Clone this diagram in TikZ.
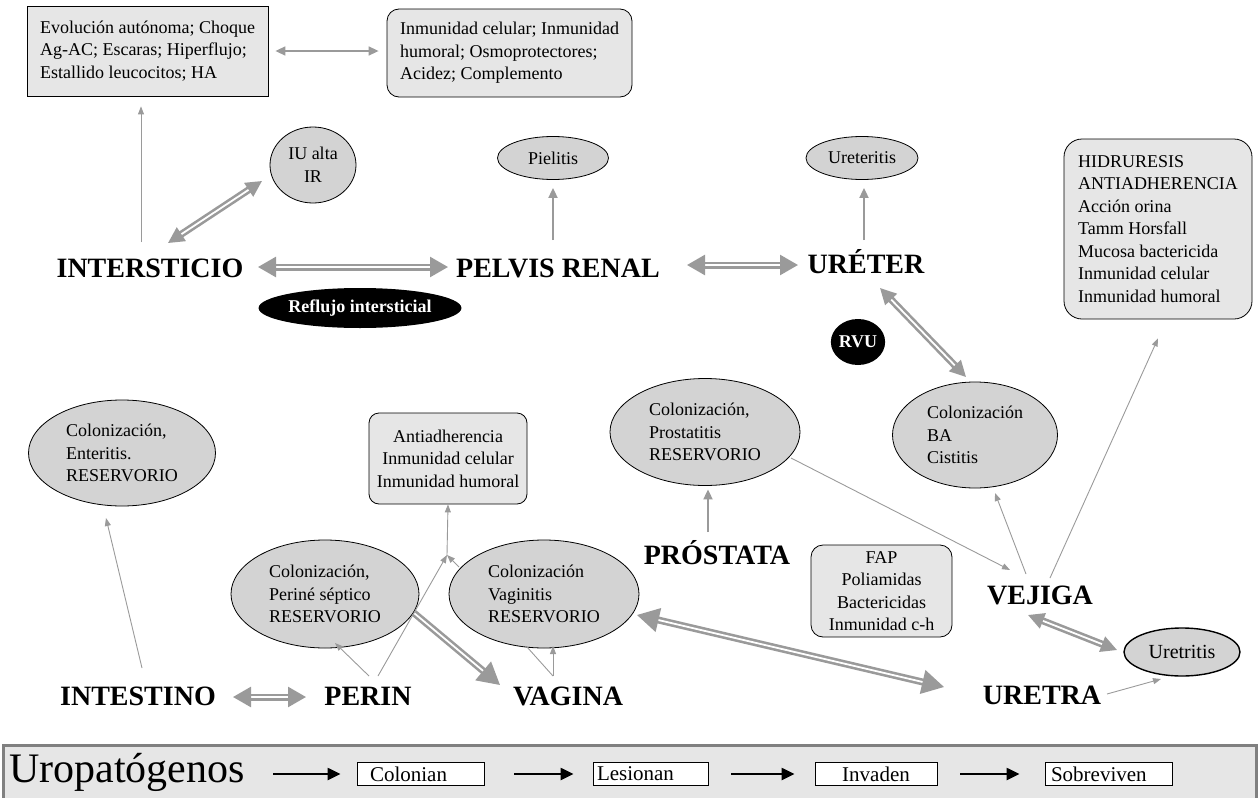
\documentclass[tikz,border=0pt]{standalone}
\usepackage{fontspec}
\setmainfont{Liberation Serif}
\usetikzlibrary{arrows.meta,shapes.geometric,calc}
\definecolor{arrgray}{HTML}{9A9A9A}
\definecolor{ellfill}{HTML}{D3D3D3}
\definecolor{boxfill}{HTML}{E6E6E6}
\definecolor{barline}{HTML}{808080}
\newcommand\txtfont{\fontsize{18}{22.5}\selectfont}
\newcommand\lblfont{\fontsize{28}{30}\selectfont\bfseries}
\tikzset{
  smalltip/.tip={Triangle[length=8pt,width=6pt]},
  midtip/.tip={Triangle[length=10pt,width=9pt]},
  dtipS/.tip={Triangle[length=16pt,width=16pt]},
  dtipM/.tip={Triangle[length=18pt,width=20pt]},
  dtipL/.tip={Triangle[length=22pt,width=24pt]},
  blktip/.tip={Triangle[length=13pt,width=12pt]},
}
\begin{document}
\begin{tikzpicture}[x=1pt,y=-1pt,
  lbl/.style={font=\lblfont, inner sep=0pt, anchor=base},
  ell/.style={ellipse, draw=black, line width=0.8pt, fill=ellfill, font=\txtfont, align=left, inner sep=0pt},
  sqbox/.style={rectangle, draw=black, line width=0.8pt, fill=boxfill, font=\txtfont, align=left, inner sep=0pt},
  rbox/.style={sqbox, rounded corners=12pt},
  darkell/.style={ellipse, fill=black, text=white, font=\fontsize{18}{20}\selectfont\bfseries, inner sep=0pt},
  thinarr/.style={draw=arrgray, line width=0.9pt, -smalltip},
  thinline/.style={draw=arrgray, line width=0.9pt},
  medarr/.style={draw=arrgray, line width=1.8pt, -midtip},
  dbl/.style={draw=arrgray, line width=2.6pt, double=white, double distance=1.8pt},
  wbox/.style={rectangle, draw=black, line width=0.8pt, fill=white, minimum height=23pt, font=\fontsize{21}{22}\selectfont, inner ysep=0pt},
  blkarr/.style={draw=black, line width=2.2pt, -blktip},
]
\useasboundingbox (0,0) rectangle (1259,798);

% bottom band
\draw[barline, line width=3pt, fill=boxfill] (3,745) rectangle (1256,806);

% top boxes
\node[sqbox, minimum width=241pt, minimum height=90pt] (box1) at (147.5,51)
  {Evolución autónoma; Choque\\Ag-AC; Escaras; Hiperflujo;\\Estallido leucocitos; HA};
\node[rbox, minimum width=245pt, minimum height=88pt] (box2) at (509.5,53)
  {Inmunidad celular; Inmunidad\\humoral; Osmoprotectores;\\Acidez; Complemento};
\node[rbox, rounded corners=18pt, minimum width=188pt, minimum height=180pt] (HID) at (1158,229)
  {HIDRURESIS\\ANTIADHERENCIA\\Acción orina\\Tamm Horsfall\\Mucosa bactericida\\Inmunidad celular\\Inmunidad humoral};
\node[rbox, rounded corners=10pt, align=center, minimum width=158pt, minimum height=91pt] (ANT) at (448,458.5)
  {Antiadherencia\\Inmunidad celular\\Inmunidad humoral};
\node[rbox, align=center, minimum width=141pt, minimum height=92pt] (FAP) at (881.5,591)
  {FAP\\Poliamidas\\Bactericidas\\Inmunidad c-h};

% ellipses
\node[ell, align=center, minimum width=86pt, minimum height=76pt] (IU) at (313,165) {IU alta\\IR};
\node[ell, minimum width=111pt, minimum height=43pt] (PIE) at (553,158) {Pielitis};
\node[ell, minimum width=112pt, minimum height=43pt] (UTS) at (862,158) {Ureteritis};
\node[ell, minimum width=187pt, minimum height=106pt] (ENT) at (122,453) {Colonización,\\Enteritis.\\RESERVORIO};
\node[ell, minimum width=188pt, minimum height=108pt] (PERI) at (325,594) {Colonización,\\Periné séptico\\RESERVORIO};
\node[ell, minimum width=190pt, minimum height=108pt] (VAGI) at (544,594) {Colonización\\Vaginitis\\RESERVORIO};
\node[ell, minimum width=190pt, minimum height=107pt] (PST) at (705,432) {Colonización,\\Prostatitis\\RESERVORIO};
\node[ell, minimum width=165pt, minimum height=106pt] (CIS) at (975,435) {Colonización\\BA\\Cistitis};
\node[ell, line width=1.4pt, font=\fontsize{20}{22}\selectfont, minimum width=116pt, minimum height=48pt] (UTR) at (1182,652) {Uretritis};

% dark tags
\node[darkell, minimum width=178pt, minimum height=40pt] (REF) at (360,308) {Reflujo intersticial};
\node[darkell, minimum width=44pt, minimum height=46pt] (RVU) at (858,342) {RVU};

% organ labels
\node[lbl] (INT) at (150,277) {INTERSTICIO};
\node[lbl] (PEL) at (558,277) {PELVIS RENAL};
\node[lbl] (URE) at (866,273) {URÉTER};
\node[lbl] (PRO) at (717,564) {PRÓSTATA};
\node[lbl] (VEJ) at (1040,604) {VEJIGA};
\node[lbl] (URT) at (1042,704) {URETRA};
\node[lbl] (INTE) at (138,705) {INTESTINO};
\node[lbl] (PER) at (368,705) {PERIN};
\node[lbl] (VAG) at (568,705) {VAGINA};

\coordinate (J) at (447,555);

% connectors, upper tract
\draw[draw=arrgray, line width=1.5pt, midtip-midtip, shorten <=7pt, shorten >=8pt]
  (box1.east) -- (box1.east -| box2.west);
\draw[thinarr] ($(INT.base)+(-9,-35)$) -- ($(box1.south)+(-6.5,10)$);
\draw[dbl, dtipS-dtipS] ($(INT.base)+(18,-34)$) -- ($(IU.center)+(-51,16)$);
\draw[dbl, dtipM-dtipM] ($(INT.base)+(108,-10)$) -- ($(PEL.base)+(-110,-10)$);
\draw[medarr] ($(PEL.base)+(-5,-37)$) -- ($(PIE.south)+(0,8)$);
\draw[dbl, dtipM-dtipM] ($(PEL.base)+(129,-12)$) -- ($(URE.base)+(-68,-8)$);
\draw[medarr] ($(URE.base)+(-2,-33)$) -- ($(UTS.south)+(2,8)$);
\draw[dbl, dtipS-dtipS] ($(URE.base)+(14,15)$) -- ($(CIS.center)+(-9,-58)$);

% bladder and prostate
\draw[thinarr] ($(PST.center)+(86,26)$) -- ($(VEJ.base)+(-30,-34)$);
\draw[thinarr] ($(VEJ.base)+(-14,-30)$) -- ($(CIS.center)+(20,58)$);
\draw[thinarr] ($(VEJ.base)+(10,-26)$) -- ($(HID.south)+(0,19)$);
\draw[medarr] ($(PRO.base)+(-9,-32)$) -- ($(PST.south)+(3,3.5)$);
\draw[dbl, dtipS-dtipS] ($(VEJ.base)+(-12,11)$) -- ($(UTR.center)+(-65,-2)$);
\draw[thinarr] ($(URT.base)+(65,-10)$) -- ($(UTR.center)+(-21,27)$);
\draw[dbl, dtipL-dtipL] ($(URT.base)+(-98,-17)$) -- ($(VAGI.center)+(93,21)$);

% lower tract
\draw[dbl, -dtipL] ($(PERI.center)+(89,19)$) -- ($(VAG.base)+(-68,-20)$);
\draw[dbl, dtipM-dtipM] ($(INTE.base)+(95,-8)$) -- ($(PER.base)+(-62,-8)$);
\draw[thinarr] ($(INTE.base)+(4,-37)$) -- ($(ENT.center)+(-16,65)$);
\draw[thinarr] ($(PER.base)+(1,-29)$) -- ($(PERI.center)+(10,49)$);
\draw[thinarr] ($(PER.base)+(10,-29)$) -- (J);
\draw[thinarr] ($(VAGI.center)+(-85,-27)$) -- (J);
\draw[thinarr] (J) -- (ANT.south);
\draw[thinarr] ($(VAG.base)+(-15,-29)$) -- ($(VAGI.center)+(9,52)$);
\draw[thinline] ($(VAG.base)+(-15,-29)$) -- ($(VAGI.center)+(-17,53)$);

% bottom sequence
\node[font=\fontsize{42}{44}\selectfont, inner sep=0pt, anchor=base west] (URO) at (9,782) {Uropatógenos};
\node[wbox, minimum width=127pt, text width=101pt, inner xsep=13pt, align=left] (S1) at (420.5,774) {Colonian};
\node[wbox, minimum width=115pt, text width=107pt, inner xsep=4pt, align=left] (S2) at (650.5,774) {Lesionan};
\node[wbox, minimum width=122pt, inner xsep=0pt] (S3) at (876,774) {Invaden};
\node[wbox, minimum width=127pt, text width=115pt, inner xsep=6pt, align=left] (S4) at (1108.5,774) {Sobreviven};
\draw[blkarr, shorten <=28pt, shorten >=16pt] (S1.west -| URO.east) -- (S1.west);
\draw[blkarr, shorten <=30pt, shorten >=19pt] (S1.east) -- (S2.west);
\draw[blkarr, shorten <=23pt, shorten >=20pt] (S2.east) -- (S3.west);
\draw[blkarr, shorten <=23pt, shorten >=25pt] (S3.east) -- (S4.west);
\end{tikzpicture}
\end{document}
